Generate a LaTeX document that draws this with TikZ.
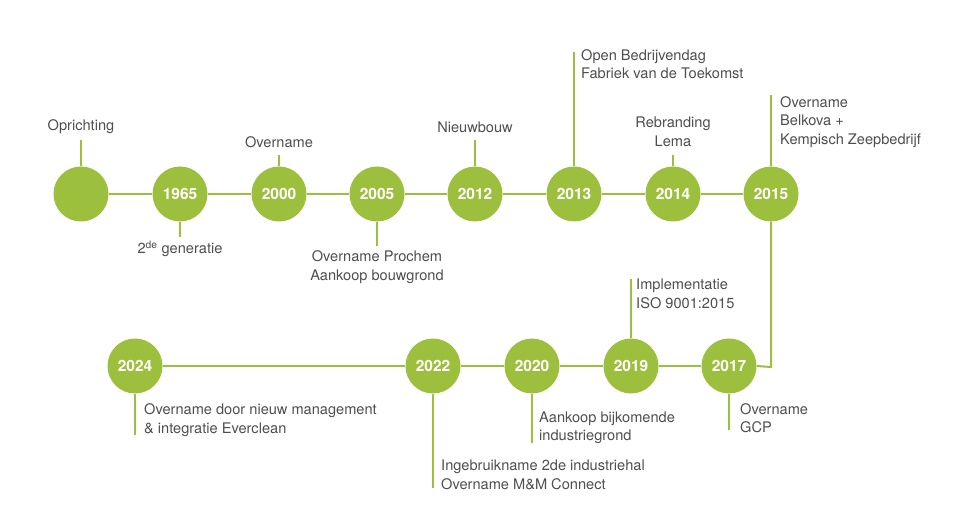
\documentclass[tikz,border=0pt]{standalone}
\usepackage{fontspec}
\setmainfont{TeX Gyre Heros}
\definecolor{lgreen}{HTML}{9CC03D}
\definecolor{tgray}{HTML}{4E4E4E}
\tikzset{
  yearnode/.style={circle, fill=lgreen, minimum size=55pt, inner sep=0pt, text=white, font=\fontsize{15.5}{18}\selectfont\bfseries},
  conn/.style={draw=lgreen, line width=2pt},
  lbl/.style={text=tgray, font=\fontsize{14.6}{18.5}\selectfont, inner sep=0pt},
}
\begin{document}
\begin{tikzpicture}[x=1pt,y=-1pt]
\useasboundingbox (0,0) rectangle (970,521);
% top row
\node[yearnode] (c0) at (81,194) {};
\node[yearnode] (c1965) at (180,194) {1965};
\node[yearnode] (c2000) at (279,194) {2000};
\node[yearnode] (c2005) at (377,194) {2005};
\node[yearnode] (c2012) at (475,194) {2012};
\node[yearnode] (c2013) at (574,194) {2013};
\node[yearnode] (c2014) at (673,194) {2014};
\node[yearnode] (c2015) at (771,194) {2015};
% bottom row
\node[yearnode] (c2024) at (135,366) {2024};
\node[yearnode] (c2022) at (433,366) {2022};
\node[yearnode] (c2020) at (532,366) {2020};
\node[yearnode] (c2019) at (631,366) {2019};
\node[yearnode] (c2017) at (729,366) {2017};
\coordinate (bend) at (772,367);
% main connectors
\draw[conn] (c0) -- (c1965);
\draw[conn] (c1965) -- (c2000);
\draw[conn] (c2000) -- (c2005);
\draw[conn] (c2005) -- (c2012);
\draw[conn] (c2012) -- (c2013);
\draw[conn] (c2013) -- (c2014);
\draw[conn] (c2014) -- (c2015);
\draw[conn] (c2015.south) -- (c2015.south |- bend) -- (c2017.east);
\draw[conn] (c2017) -- (c2019);
\draw[conn] (c2019) -- (c2020);
\draw[conn] (c2020) -- (c2022);
\draw[conn] (c2022) -- (c2024);
% stubs
\coordinate (s0) at (81,140);
\coordinate (s1965) at (180,237);
\coordinate (s2000) at (279,155);
\coordinate (s2005) at (377,246);
\coordinate (s2012) at (475,140);
\coordinate (s2013) at (574,52);
\coordinate (s2014) at (673,155);
\coordinate (s2015) at (771,95);
\coordinate (s2024) at (135,435);
\coordinate (s2022) at (433,488);
\coordinate (s2020) at (532,443);
\coordinate (s2019) at (631,279);
\coordinate (s2017) at (729,430);
\draw[conn] (c0.north) -- (s0);
\draw[conn] (c1965.south) -- (s1965);
\draw[conn] (c2000.north) -- (s2000);
\draw[conn] (c2005.south) -- (s2005);
\draw[conn] (c2012.north) -- (s2012);
\draw[conn] (c2013.north) -- (s2013);
\draw[conn] (c2014.north) -- (s2014);
\draw[conn] (c2015.north) -- (s2015);
\draw[conn] (c2024.south) -- (s2024);
\draw[conn] (c2022.south) -- (s2022);
\draw[conn] (c2020.south) -- (s2020);
\draw[conn] (c2019.north) -- (s2019);
\draw[conn] (c2017.south) -- (s2017);
% labels
\node[lbl] (t0) at (81,127) {Oprichting};
\node[lbl] (t1965) at (180,249) {2\textsuperscript{de} generatie};
\node[lbl] (t2000) at (279,142) {Overname};
\node[lbl, align=center] (t2005) at (377,267) {Overname Prochem\\Aankoop bouwgrond};
\node[lbl] (t2012) at (475,127) {Nieuwbouw};
\node[lbl, align=left, anchor=west] (t2013) at (581,64) {Open Bedrijvendag\\Fabriek van de Toekomst};
\node[lbl, align=center] (t2014) at (673,132) {Rebranding\\Lema};
\node[lbl, align=left, anchor=west] (t2015) at (780,122) {Overname\\Belkova +\\Kempisch Zeepbedrijf};
\node[lbl, align=left, anchor=west] (t2024) at (144,420) {Overname door nieuw management\\\& integratie Everclean};
\node[lbl, align=left, anchor=west] (t2022) at (441,475) {Ingebruikname 2de industriehal\\Overname M\&M Connect};
\node[lbl, align=left, anchor=west] (t2020) at (539,428) {Aankoop bijkomende\\industriegrond};
\node[lbl, align=left, anchor=west] (t2019) at (636,294) {Implementatie\\ISO 9001:2015};
\node[lbl, align=left, anchor=west] (t2017) at (740,418) {Overname\\GCP};
\end{tikzpicture}
\end{document}
